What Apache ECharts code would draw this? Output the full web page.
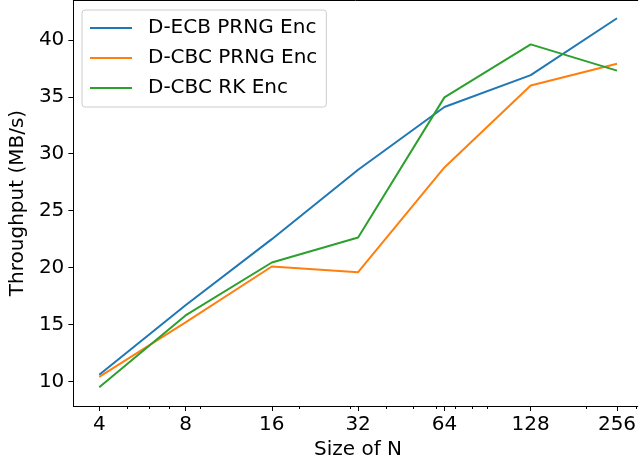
<!DOCTYPE html>
<html>
<head>
<meta charset="utf-8">
<script src="https://cdn.jsdelivr.net/npm/echarts@6/dist/echarts.min.js"></script>
<style>
  html, body { margin: 0; padding: 0; background: #fff; }
  #chart { width: 639px; height: 468px; }
</style>
</head>
<body>
<div id="chart"></div>
<script>
// sizes of N (log2 x axis)
const sizes = [4, 8, 16, 32, 64, 128, 256];
// throughput in MB/s
const ecbPrng = [10.6, 16.7, 22.5, 28.6, 34.1, 36.9, 41.9];
const cbcPrng = [10.4, 15.2, 20.1, 19.6, 28.8, 36.0, 37.9];
const cbcRk = [9.5, 15.8, 20.45, 22.65, 34.95, 39.6, 37.3];
// ticks
const yTicks = [10, 15, 20, 25, 30, 35, 40];
const xMinorTicks = [5, 6, 7, 9, 20, 30, 40, 50, 60, 70, 80, 90, 200, 300];

const font = "DejaVu Sans";
const chart = echarts.init(document.getElementById("chart"));

function pairs(ys) {
  return sizes.map((x, i) => [x, ys[i]]);
}

const xMin = Math.pow(2, 1.7);
const xMax = Math.pow(2, 8.24);

const option = {
  animation: false,
  textStyle: { fontFamily: font },
  grid: {
    left: 71,
    right: 0,
    top: 0,
    bottom: 62,
  },
  legend: {
    left: 82,
    top: 10,
    orient: "vertical",
    itemWidth: 42,
    itemHeight: 14,
    itemGap: 10,
    padding: [8, 9, 9, 7],
    borderColor: "#ccc",
    borderWidth: 1,
    borderRadius: 3,
    backgroundColor: "rgba(255,255,255,0.8)",
    itemStyle: { opacity: 0 },
    textStyle: {
      fontFamily: font,
      fontSize: 20,
      lineHeight: 20,
      color: "#000",
      padding: [0, 0, 0, 11],
    },
    data: ["D-ECB PRNG Enc", "D-CBC PRNG Enc", "D-CBC RK Enc"],
  },
  xAxis: [
    {
      type: "log",
      logBase: 2,
      min: xMin,
      max: xMax,
      position: "bottom",
      name: "Size of N",
      nameLocation: "middle",
      nameGap: 32,
      nameTextStyle: {
        fontFamily: font,
        fontSize: 20,
        color: "#000",
        padding: [0, 0, 0, 5],
      },
      axisLine: { show: true, lineStyle: { color: "#000", width: 1 } },
      axisTick: {
        show: true,
        length: 5,
        customValues: sizes,
        lineStyle: { color: "#000" },
      },
      axisLabel: {
        customValues: sizes,
        fontFamily: font,
        fontSize: 20,
        color: "#000",
        margin: 9,
      },
      splitLine: { show: false },
      minorTick: { show: false },
    },
    {
      // minor ticks only
      type: "log",
      logBase: 2,
      min: xMin,
      max: xMax,
      position: "bottom",
      axisLine: { show: false },
      axisTick: {
        show: true,
        length: 3,
        customValues: xMinorTicks,
        lineStyle: { color: "#000" },
      },
      axisLabel: { show: false },
      splitLine: { show: false },
    },
    {
      // top spine
      type: "log",
      logBase: 2,
      min: xMin,
      max: xMax,
      position: "top",
      axisLine: { show: true, lineStyle: { color: "#000", width: 1 } },
      axisTick: { show: false },
      axisLabel: { show: false },
      splitLine: { show: false },
    },
  ],
  yAxis: {
    type: "value",
    min: 7.85,
    max: 43.5,
    name: "Throughput (MB/s)",
    nameLocation: "middle",
    nameGap: 40,
    nameTextStyle: { fontFamily: font, fontSize: 20, color: "#000" },
    axisLine: { show: true, lineStyle: { color: "#000", width: 1 } },
    axisTick: {
      show: true,
      length: 5,
      customValues: yTicks,
      lineStyle: { color: "#000" },
    },
    axisLabel: {
      customValues: yTicks,
      fontFamily: font,
      fontSize: 20,
      color: "#000",
      margin: 9,
    },
    splitLine: { show: false },
  },
  series: [
    {
      name: "D-ECB PRNG Enc",
      type: "line",
      symbol: "none",
      data: pairs(ecbPrng),
      lineStyle: { color: "#1f77b4", width: 2 },
      itemStyle: { color: "#1f77b4" },
    },
    {
      name: "D-CBC PRNG Enc",
      type: "line",
      symbol: "none",
      data: pairs(cbcPrng),
      lineStyle: { color: "#ff7f0e", width: 2 },
      itemStyle: { color: "#ff7f0e" },
    },
    {
      name: "D-CBC RK Enc",
      type: "line",
      symbol: "none",
      data: pairs(cbcRk),
      lineStyle: { color: "#2ca02c", width: 2 },
      itemStyle: { color: "#2ca02c" },
    },
  ],
};

chart.setOption(option);
</script>
</body>
</html>
